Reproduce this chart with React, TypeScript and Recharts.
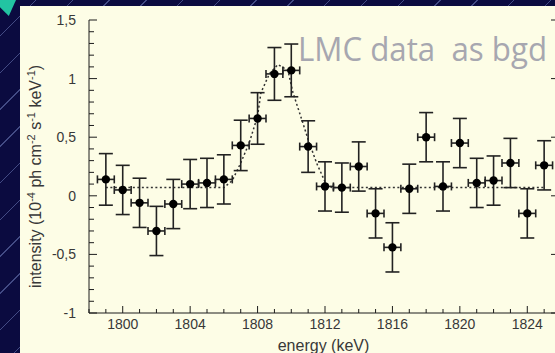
import React from 'react';
import { ComposedChart, Scatter, Line, XAxis, YAxis, ErrorBar } from 'recharts';

// ---- data ----
const ENERGY = [1799, 1800, 1801, 1802, 1803, 1804, 1805, 1806, 1807, 1808, 1809, 1810, 1811, 1812,
  1813, 1814, 1815, 1816, 1817, 1818, 1819, 1820, 1821, 1822, 1823, 1824, 1825];
const INTENSITY = [0.14, 0.05, -0.06, -0.30, -0.07, 0.10, 0.11, 0.14, 0.43, 0.66, 1.04, 1.07, 0.42, 0.08,
  0.07, 0.25, -0.15, -0.44, 0.06, 0.50, 0.08, 0.45, 0.11, 0.13, 0.28, -0.15, 0.26];
const ERR_Y = [0.22, 0.21, 0.21, 0.21, 0.21, 0.21, 0.21, 0.21, 0.215, 0.22, 0.225, 0.225, 0.22, 0.21,
  0.21, 0.21, 0.21, 0.21, 0.21, 0.21, 0.21, 0.21, 0.21, 0.21, 0.21, 0.21, 0.21];
const ERR_X = [0.5, 0.5, 0.5, 0.5, 0.5, 0.5, 0.5, 0.5, 0.5, 0.5, 0.5, 0.5, 0.5, 0.5,
  0.5, 0.5, 0.5, 0.5, 0.5, 0.5, 0.5, 0.5, 0.5, 0.5, 0.5, 0.5, 0.5];

const MODEL_E = [1799, 1806, 1806.5, 1807, 1807.5, 1808, 1808.2, 1808.7, 1809.2, 1809.8, 1810.1, 1810.6,
  1811, 1811.5, 1812, 1812.4, 1825];
const MODEL_I = [0.07, 0.07, 0.13, 0.28, 0.45, 0.68, 0.88, 1.04, 1.12, 1.07, 0.88, 0.66,
  0.48, 0.28, 0.12, 0.07, 0.07];

const X_DOMAIN = [1798, 1826];
const X_TICKS = [1798, 1799, 1800, 1801, 1802, 1803, 1804, 1805, 1806, 1807, 1808, 1809, 1810, 1811,
  1812, 1813, 1814, 1815, 1816, 1817, 1818, 1819, 1820, 1821, 1822, 1823, 1824, 1825, 1826];
const X_LABELS = [1800, 1804, 1808, 1812, 1816, 1820, 1824];

const Y_DOMAIN = [-1, 1.5];
const Y_TICKS = [-1, -0.9, -0.8, -0.7, -0.6, -0.5, -0.4, -0.3, -0.2, -0.1, 0, 0.1, 0.2, 0.3, 0.4, 0.5,
  0.6, 0.7, 0.8, 0.9, 1, 1.1, 1.2, 1.3, 1.4, 1.5];
const Y_MAJOR = [-1, -0.5, 0, 0.5, 1, 1.5];
const Y_LABELS = ['-1', '-0,5', '0', '0,5', '1', '1,5'];

const X_TITLE = 'energy (keV)';
const ANNOTATION = 'LMC data  as bgd';

// ---- style ----
const INK = '#1c1c1c';
const TEXT = '#383838';
const FONT = '"Liberation Sans", Arial, Helvetica, sans-serif';

const points = ENERGY.map((e, i) => ({ x: e, y: INTENSITY[i], ex: ERR_X[i], ey: ERR_Y[i] }));
const model = MODEL_E.map((e, i) => ({ x: e, y: MODEL_I[i] }));

const yMajorIndex = (v: number) => Y_MAJOR.findIndex((m) => Math.abs(m - v) < 1e-6);

function BottomTick(props: any) {
  const { x, y, payload } = props;
  const v = payload.value;
  const labeled = X_LABELS.indexOf(v) >= 0;
  return (
    <g>
      <line x1={x} x2={x} y1={y} y2={y - (labeled ? 7 : 4)} stroke={INK} strokeWidth={1} />
      {labeled && (
        <text x={x} y={y + 16} textAnchor="middle" fontSize={14} fill={TEXT} fontFamily={FONT}>
          {v}
        </text>
      )}
    </g>
  );
}

function TopTick(props: any) {
  const { x, y, payload } = props;
  const major = X_LABELS.indexOf(payload.value) >= 0;
  return <line x1={x} x2={x} y1={y} y2={y + (major ? 7 : 4)} stroke={INK} strokeWidth={1} />;
}

function LeftTick(props: any) {
  const { x, y, payload } = props;
  const idx = yMajorIndex(payload.value);
  const major = idx >= 0;
  return (
    <g>
      <line x1={x} x2={x + (major ? 8 : 5)} y1={y} y2={y} stroke={INK} strokeWidth={1} />
      {major && (
        <text x={x - 13} y={y + 5} textAnchor="end" fontSize={14} fill={TEXT} fontFamily={FONT}>
          {Y_LABELS[idx]}
        </text>
      )}
    </g>
  );
}

function RightTick(props: any) {
  const { x, y, payload } = props;
  const major = yMajorIndex(payload.value) >= 0;
  return <line x1={x} x2={x - (major ? 10 : 5)} y1={y} y2={y} stroke={INK} strokeWidth={1} />;
}

function YTitle(props: any) {
  const vb = props.viewBox || { x: 0, y: 20, width: 89, height: 293 };
  const cx = vb.x + 36;
  const cy = vb.y + vb.height / 2 + 10;
  return (
    <text
      x={cx}
      y={cy + 5}
      transform={`rotate(-90, ${cx}, ${cy})`}
      textAnchor="middle"
      fontSize={16}
      fill={TEXT}
      fontFamily={FONT}
    >
      <tspan>intensity (10</tspan>
      <tspan dy={-6} fontSize={11}>-4</tspan>
      <tspan dy={6}> ph cm</tspan>
      <tspan dy={-6} fontSize={11}>-2</tspan>
      <tspan dy={6}> s</tspan>
      <tspan dy={-6} fontSize={11}>-1</tspan>
      <tspan dy={6}> keV</tspan>
      <tspan dy={-6} fontSize={11}>-1</tspan>
      <tspan dy={6}>)</tspan>
    </text>
  );
}

function XTitle(props: any) {
  const vb = props.viewBox || { x: 89, y: 313, width: 472, height: 40 };
  return (
    <text x={vb.x + vb.width / 2 - 1.5} y={vb.y + 38} textAnchor="middle" fontSize={16} fill={TEXT} fontFamily={FONT}>
      {X_TITLE}
    </text>
  );
}

const Marker = (props: any) => <circle cx={props.cx} cy={props.cy} r={4.2} fill="#000" />;

export default function App() {
  return (
    <div
      style={{
        position: 'fixed',
        left: 0,
        top: 0,
        width: 555,
        height: 353,
        overflow: 'hidden',
        background: '#0b0b40',
      }}
    >
      <div
        style={{
          position: 'absolute',
          inset: 0,
          backgroundImage:
            'repeating-linear-gradient(135deg, rgba(0,0,0,0) 0px, rgba(0,0,0,0) 25px, rgba(150,170,235,0.4) 25px, rgba(150,170,235,0.4) 26px)',
        }}
      />
      <div
        style={{
          position: 'absolute',
          left: 0,
          top: 0,
          width: 16,
          height: 16,
          background: '#22c4a2',
          clipPath: 'polygon(0 0, 100% 0, 55% 100%, 0 45%)',
        }}
      />
      <div style={{ position: 'absolute', left: 20, top: 6, right: 0, bottom: 0, background: '#fdfde6' }} />
      <div style={{ position: 'absolute', left: 0, top: 0 }}>
        <ComposedChart width={581} height={353} margin={{ top: 20, right: 0, bottom: 0, left: 0 }}>
          <XAxis
            xAxisId="bottom"
            dataKey="x"
            type="number"
            domain={X_DOMAIN}
            ticks={X_TICKS}
            interval={0}
            height={40}
            tickSize={0}
            tickMargin={0}
            tickLine={false}
            tick={BottomTick}
            axisLine={{ stroke: INK, strokeWidth: 1 }}
            allowDataOverflow
            label={XTitle}
          />
          <XAxis
            xAxisId="top"
            orientation="top"
            dataKey="x"
            type="number"
            domain={X_DOMAIN}
            ticks={X_TICKS}
            interval={0}
            height={0}
            tickSize={0}
            tickMargin={0}
            tickLine={false}
            tick={TopTick}
            axisLine={{ stroke: INK, strokeWidth: 1 }}
            allowDataOverflow
          />
          <YAxis
            yAxisId="left"
            dataKey="y"
            type="number"
            domain={Y_DOMAIN}
            ticks={Y_TICKS}
            interval={0}
            width={89}
            tickSize={0}
            tickMargin={0}
            tickLine={false}
            tick={LeftTick}
            axisLine={{ stroke: INK, strokeWidth: 1 }}
            allowDataOverflow
            label={YTitle}
          />
          <YAxis
            yAxisId="right"
            orientation="right"
            type="number"
            domain={Y_DOMAIN}
            ticks={Y_TICKS}
            interval={0}
            width={20}
            tickSize={0}
            tickMargin={0}
            tickLine={false}
            tick={RightTick}
            axisLine={{ stroke: INK, strokeWidth: 1 }}
            allowDataOverflow
          />
          <Line
            xAxisId="bottom"
            yAxisId="left"
            data={model}
            dataKey="y"
            type="linear"
            stroke="#333"
            strokeWidth={1.5}
            strokeDasharray="2 2.5"
            dot={false}
            activeDot={false}
            isAnimationActive={false}
          />
          <Scatter
            xAxisId="bottom"
            yAxisId="left"
            data={points}
            dataKey="y"
            shape={Marker}
            isAnimationActive={false}
          >
            <ErrorBar dataKey="ey" direction="y" width={7} stroke="#222" strokeWidth={1.6} />
            <ErrorBar dataKey="ex" direction="x" width={4} stroke="#222" strokeWidth={1.6} />
          </Scatter>
        </ComposedChart>
      </div>
      <svg style={{ position: 'absolute', left: 0, top: 0 }} width={555} height={353}>
        <text
          x={298}
          y={61}
          fontSize={32}
          fill="#a7a7b0"
          fontFamily='"Open Sans", "Noto Sans", sans-serif'
          textLength={249}
          lengthAdjust="spacingAndGlyphs"
          style={{ whiteSpace: 'pre' }}
        >
          {ANNOTATION}
        </text>
      </svg>
    </div>
  );
}
